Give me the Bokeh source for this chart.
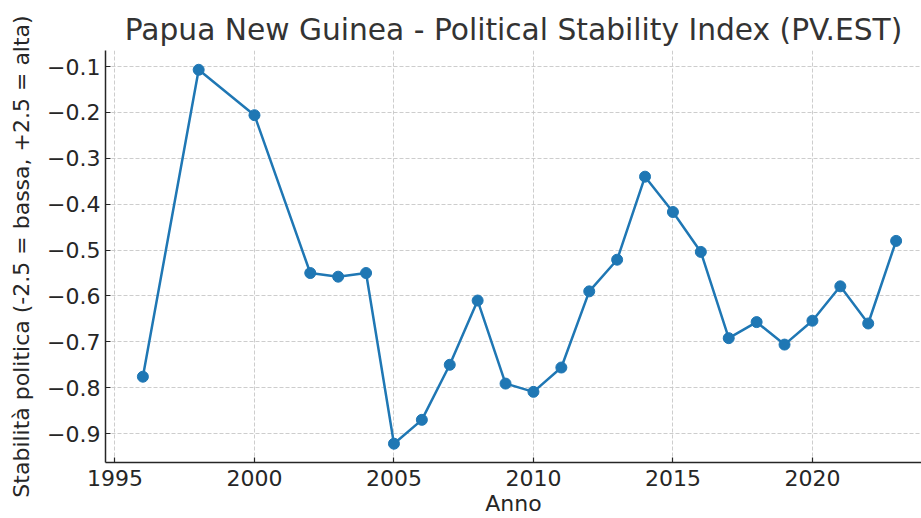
from bokeh.plotting import figure
from bokeh.models import FixedTicker, CustomJSTickFormatter, Range1d
from bokeh.embed import file_html
from bokeh.resources import INLINE

years = [1996, 1998, 2000, 2002, 2003, 2004, 2005, 2006, 2007, 2008, 2009, 2010,
         2011, 2012, 2013, 2014, 2015, 2016, 2017, 2018, 2019, 2020, 2021, 2022, 2023]
values = [-0.776, -0.107, -0.206, -0.550, -0.558, -0.550, -0.922, -0.870, -0.750,
          -0.610, -0.791, -0.809, -0.756, -0.590, -0.521, -0.340, -0.417, -0.504,
          -0.692, -0.657, -0.706, -0.654, -0.579, -0.660, -0.480]
x_ticks = [1995, 2000, 2005, 2010, 2015, 2020]
y_ticks = [-0.9, -0.8, -0.7, -0.6, -0.5, -0.4, -0.3, -0.2, -0.1]

FONT = "DejaVu Sans"
TXT = "#333333"

p = figure(width=921, height=518, output_backend="svg", toolbar_location=None,
           x_range=Range1d(1994.66, 2023.91), y_range=Range1d(-0.963, -0.065),
           min_border_left=105, min_border_right=0, min_border_top=50, min_border_bottom=56)
p.title.text = "Papua New Guinea - Political Stability Index (PV.EST)"
p.title.text_font = FONT
p.title.text_font_size = "29.7px"
p.title.text_font_style = "normal"
p.title.text_color = TXT
p.title.align = "center"
p.title.offset = 10
p.title.standoff = 7

p.outline_line_color = None
p.background_fill_color = "white"
p.border_fill_color = "white"

p.line(years, values, line_color="#1f77b4", line_width=2.5)
p.scatter(years, values, size=11, fill_color="#1f77b4", line_color="#1f77b4")

for ax in (p.xaxis[0], p.yaxis[0]):
    ax.axis_line_color = "#262626"
    ax.axis_line_width = 1.5
    ax.major_tick_in = 5
    ax.major_tick_out = 0
    ax.major_tick_line_color = "#262626"
    ax.major_tick_line_width = 1.2
    ax.minor_tick_line_color = None
    ax.major_label_text_font = FONT
    ax.major_label_text_font_size = "22px"
    ax.major_label_text_color = "#262626"
    ax.axis_label_text_font = FONT
    ax.axis_label_text_font_size = "22px"
    ax.axis_label_text_font_style = "normal"
    ax.axis_label_text_color = "#262626"

p.xaxis.ticker = FixedTicker(ticks=x_ticks)
p.yaxis.ticker = FixedTicker(ticks=y_ticks)
p.yaxis.formatter = CustomJSTickFormatter(code="return tick.toFixed(1).replace('-', '\u2212');")
p.xaxis.axis_label = "Anno"
p.yaxis.axis_label = "Stabilità politica (-2.5 = bassa, +2.5 = alta)"
p.xaxis.major_label_standoff = 7
p.xaxis.axis_label_standoff = 2
p.yaxis.major_label_standoff = 5
p.yaxis.axis_label_standoff = 10

p.grid.grid_line_color = "#c8c8c8"
p.grid.grid_line_alpha = 0.9
p.grid.grid_line_dash = "4 2"
p.grid.grid_line_width = 1
p.xgrid.ticker = FixedTicker(ticks=x_ticks)
p.ygrid.ticker = FixedTicker(ticks=y_ticks)

open("out.html", "w").write(file_html(p, INLINE))
